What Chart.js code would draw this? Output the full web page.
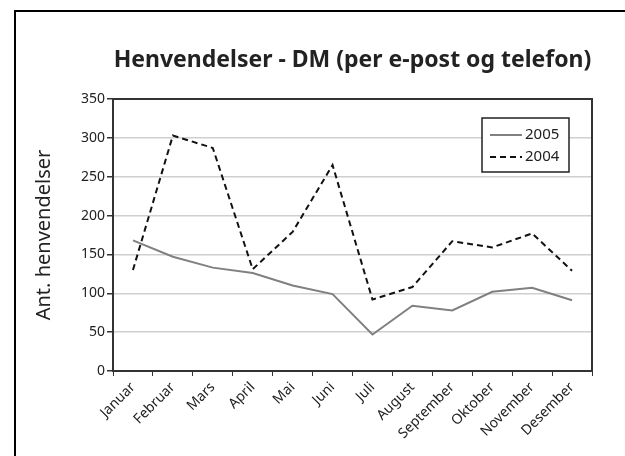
<!DOCTYPE html>
<html>
<head>
<meta charset="utf-8">
<script src="https://cdn.jsdelivr.net/npm/chart.js@4"></script>
<style>
  html, body { margin: 0; padding: 0; background: #fff; overflow: hidden; }
  #frame { position: absolute; left: 14px; top: 10px; width: 700px; height: 500px; border: 2px solid #000; }
  #wrap { position: absolute; left: 0; top: 0; width: 625px; height: 456px; }
</style>
</head>
<body>
<div id="frame"></div>
<div id="wrap"><canvas id="chart" width="625" height="456"></canvas></div>
<script>
const months = ["Januar", "Februar", "Mars", "April", "Mai", "Juni", "Juli",
                "August", "September", "Oktober", "November", "Desember"];
const values2005 = [168, 147, 133, 126, 110, 99, 47, 84, 78, 102, 107, 91];
const values2004 = [130, 303, 287, 131, 179, 265, 92, 108, 167, 159, 177, 129];
const chartTitle = "Henvendelser - DM (per e-post og telefon)";
const yTitle = "Ant. henvendelser";

const FONT = "'Noto Sans', 'DejaVu Sans', sans-serif";

// title centred over the plot, plus the box round the plot area
const framePlugin = {
    id: "framePlugin",
    afterDraw(chart) {
        const { ctx, chartArea: a } = chart;
        ctx.save();
        ctx.strokeStyle = "#333";
        ctx.lineWidth = 2;
        ctx.strokeRect(a.left, a.top, a.right - a.left, a.bottom - a.top);

        ctx.fillStyle = "#222";
        ctx.font = "bold 23px " + FONT;
        ctx.textAlign = "center";
        ctx.textBaseline = "middle";
        ctx.fillText(chartTitle, (a.left + a.right) / 2, 60);
        ctx.restore();
    }
};

// legend box inside the plot, top right
const boxLegend = {
    id: "boxLegend",
    afterDraw(chart) {
        const { ctx } = chart;
        const x = 482, y = 118, w = 87, h = 54;
        ctx.save();
        ctx.fillStyle = "#fff";
        ctx.fillRect(x, y, w, h);
        ctx.strokeStyle = "#222";
        ctx.lineWidth = 1.5;
        ctx.strokeRect(x, y, w, h);
        chart.data.datasets.forEach((ds, i) => {
            const ly = y + 17 + i * 22;
            ctx.beginPath();
            ctx.strokeStyle = ds.borderColor;
            ctx.lineWidth = ds.borderWidth;
            ctx.setLineDash(ds.borderDash || []);
            ctx.moveTo(x + 8, ly);
            ctx.lineTo(x + 40, ly);
            ctx.stroke();
            ctx.setLineDash([]);
            ctx.fillStyle = "#222";
            ctx.font = "15px " + FONT;
            ctx.textBaseline = "middle";
            ctx.fillText(ds.label, x + 43, ly);
        });
        ctx.restore();
    }
};

new Chart(document.getElementById("chart"), {
    type: "line",
    data: {
        labels: months,
        datasets: [
            {
                label: "2005",
                data: values2005,
                borderColor: "#808080",
                borderWidth: 2,
                pointRadius: 0,
                tension: 0
            },
            {
                label: "2004",
                data: values2004,
                borderColor: "#111",
                borderWidth: 2,
                borderDash: [6, 4],
                pointRadius: 0,
                tension: 0
            }
        ]
    },
    options: {
        responsive: false,
        animation: false,
        layout: { padding: { top: 99, left: 30, right: 33, bottom: 0 } },
        plugins: {
            legend: { display: false },
            title: { display: false },
            tooltip: { enabled: false }
        },
        scales: {
            x: {
                offset: true,
                afterFit: s => { s.height = 85; },
                grid: {
                    offset: true,
                    drawOnChartArea: false,
                    tickLength: 5,
                    tickColor: "#333"
                },
                border: { color: "#333", width: 2 },
                ticks: {
                    color: "#222",
                    font: { family: FONT, size: 14 },
                    minRotation: 45,
                    maxRotation: 45,
                    padding: 3
                }
            },
            y: {
                min: 0,
                max: 350,
                afterFit: s => { s.width = 83; },
                ticks: {
                    stepSize: 50,
                    color: "#222",
                    font: { family: FONT, size: 14 },
                    padding: 2
                },
                grid: {
                    color: "#cfcfcf",
                    lineWidth: 1.5,
                    tickLength: 6,
                    tickColor: "#333"
                },
                border: { color: "#333", width: 2 },
                title: {
                    display: true,
                    text: yTitle,
                    color: "#222",
                    font: { family: FONT, size: 20 },
                    padding: 2
                }
            }
        }
    },
    plugins: [framePlugin, boxLegend]
});
</script>
</body>
</html>
